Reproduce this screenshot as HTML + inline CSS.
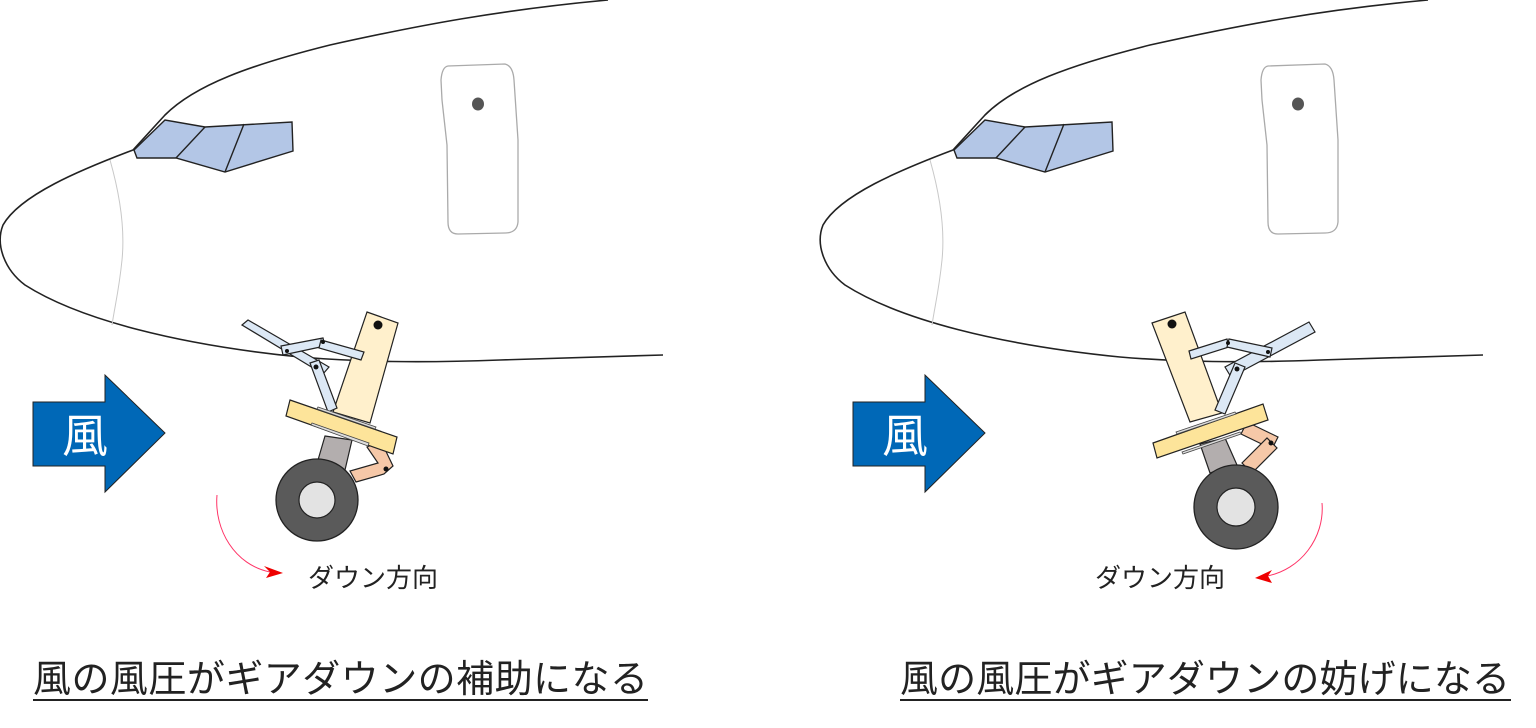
<!DOCTYPE html>
<html><head><meta charset="utf-8"><style>
html,body{margin:0;padding:0;background:#fff;width:1536px;height:728px;overflow:hidden}
svg{display:block}
text{font-family:"Liberation Sans","Noto Sans CJK JP",sans-serif}
</style></head><body>
<svg width="1536" height="728" viewBox="0 0 1536 728" xmlns="http://www.w3.org/2000/svg">
<defs>
<g id="plane">
  <path d="M608,0 C500,10 420,25 330,45 C250,65 195,85 165,115 L133,150 C80,170 20,195 3,225 C-5,245 5,270 25,285 C80,320 180,345 300,357 C360,362 420,363 500,360 L663,355" fill="none" stroke="#222" stroke-width="1.6"/>
  <path d="M110,160 C120,195 125,230 122,260 C119,290 115,305 112,325" fill="none" stroke="#c8c8c8" stroke-width="1"/>
  <path d="M134,150 L165,120 L205,127 L292,122 L293,151 L225,172 L176,158 L137,158 Z" fill="#b3c6e6" stroke="#222" stroke-width="1.4"/>
  <path d="M205,127 L176,158 M244,124 L225,172" stroke="#222" stroke-width="1.4"/>
  <path d="M448,66 L505,64 Q513,66 514,80 L518,140 L518,222 Q517,233 505,233 L458,234 Q448,234 448,222 L447,145 L442,100 L441,80 Q442,67 448,66 Z" fill="none" stroke="#aaa" stroke-width="1.3"/>
  <ellipse cx="478" cy="104" rx="6" ry="6.5" fill="#555"/>
  <path d="M33,402 L105,402 L105,375 L165,433 L105,492 L105,466 L33,466 Z" fill="#0068b7" stroke="#222" stroke-width="1"/>
  <text x="85" y="452" font-size="46" fill="#fff" text-anchor="middle">風</text>
</g>
</defs>
<use href="#plane"/>
<use href="#plane" transform="translate(820,0)"/>

<!-- left gear -->
<g stroke="#222" stroke-width="1.2">
  <path d="M325,436 L352,440 L345,470 L318,460 Z" fill="#b3aeae"/>
  <path d="M367,447 L381,441 L393,466 L384,474 L356,482 L350,471 L378,463 Z" fill="#f6c8a8"/>
  <path d="M367,312 L398,323 L370,423 L333,412 Z" fill="#fff0cc"/>
  <path d="M242,325 L248,320 L329,367 L323,374 Z" fill="#dce8f5"/>
  <path d="M281,346 L323,338 L325,346 L283,355 Z" fill="#dce8f5"/>
  <path d="M321,340 L364,352 L361,360 L319,348 Z" fill="#dce8f5"/>
  <path d="M310,363 L319,360 L337,408 L328,412 Z" fill="#dce8f5"/>
  <path d="M290,400 L397,437 L393,454 L286,416 Z" fill="#fde49a"/>
  <path d="M318,407 L376,427 L375,429 L317,409 Z M311,425 L368,446 L369,443 L312,423 Z" fill="#ddd" stroke="#444" stroke-width="0.8"/>
  <circle cx="317" cy="500" r="41" fill="#5a5a5a" stroke-width="1.3"/>
  <circle cx="317" cy="500" r="18" fill="#e3e3e3"/>
</g>
<g fill="#111">
  <circle cx="386" cy="469" r="2.5"/><circle cx="378" cy="325" r="4.5"/>
  <circle cx="287" cy="351" r="2"/><circle cx="323" cy="342" r="2"/><circle cx="316" cy="367" r="2.5"/>
</g>

<!-- right gear -->
<g stroke="#222" stroke-width="1.2">
  <path d="M1200,444 L1225,438 L1237,465 L1210,473 Z" fill="#b3aeae"/>
  <path d="M1247,422 L1278,437 L1272,449 L1241,434 Z" fill="#f6c8a8"/>
  <path d="M1277,448 L1252,473 L1242,463 L1267,438 Z" fill="#f6c8a8"/>
  <path d="M1152,323 L1185,312 L1222,413 L1190,422 Z" fill="#fff0cc"/>
  <path d="M1309,322 L1315,332 L1231,377 L1225,367 Z" fill="#dce8f5"/>
  <path d="M1189,351 L1227,339 L1229,347 L1191,359 Z" fill="#dce8f5"/>
  <path d="M1229,339 L1272,348 L1270,357 L1227,347 Z" fill="#dce8f5"/>
  <path d="M1235,363 L1245,367 L1225,414 L1215,410 Z" fill="#dce8f5"/>
  <path d="M1153,443 L1263,404 L1268,420 L1157,458 Z" fill="#fde49a"/>
  <path d="M1176,432 L1235,412 L1236,414 L1177,434 Z M1182,452 L1240,432 L1241,434 L1183,454 Z" fill="#ddd" stroke="#444" stroke-width="0.8"/>
  <circle cx="1236" cy="507" r="42" fill="#5a5a5a" stroke-width="1.3"/>
  <circle cx="1236" cy="507" r="19" fill="#e3e3e3"/>
</g>
<g fill="#111">
  <circle cx="1271" cy="443" r="2.5"/><circle cx="1172" cy="324" r="4.5"/>
  <circle cx="1228" cy="343" r="2"/><circle cx="1268" cy="352" r="2"/><circle cx="1237" cy="369" r="2.5"/>
</g>

<path d="M217,495 C214,530 235,565 270,572" fill="none" stroke="#f36" stroke-width="1"/>
<path d="M264,566 L283,573 L266,578 L270,572 Z" fill="#e00"/>
<text x="308" y="587" font-size="26" fill="#222">ダウン方向</text>
<path d="M1322,503 C1325,538 1300,570 1267,576" fill="none" stroke="#f36" stroke-width="1"/>
<path d="M1272,570 L1255,578 L1272,583 L1268,576 Z" fill="#e00"/>
<text x="1095" y="587" font-size="26" fill="#222">ダウン方向</text>
<text x="33" y="692" font-size="38" fill="#222" textLength="615">風の風圧がギアダウンの補助になる</text>
<line x1="33" y1="700" x2="648" y2="700" stroke="#222" stroke-width="2"/>
<text x="900" y="692" font-size="38" fill="#222" textLength="610">風の風圧がギアダウンの妨げになる</text>
<line x1="900" y1="700" x2="1511" y2="700" stroke="#222" stroke-width="2"/>
</svg>
</body></html>
